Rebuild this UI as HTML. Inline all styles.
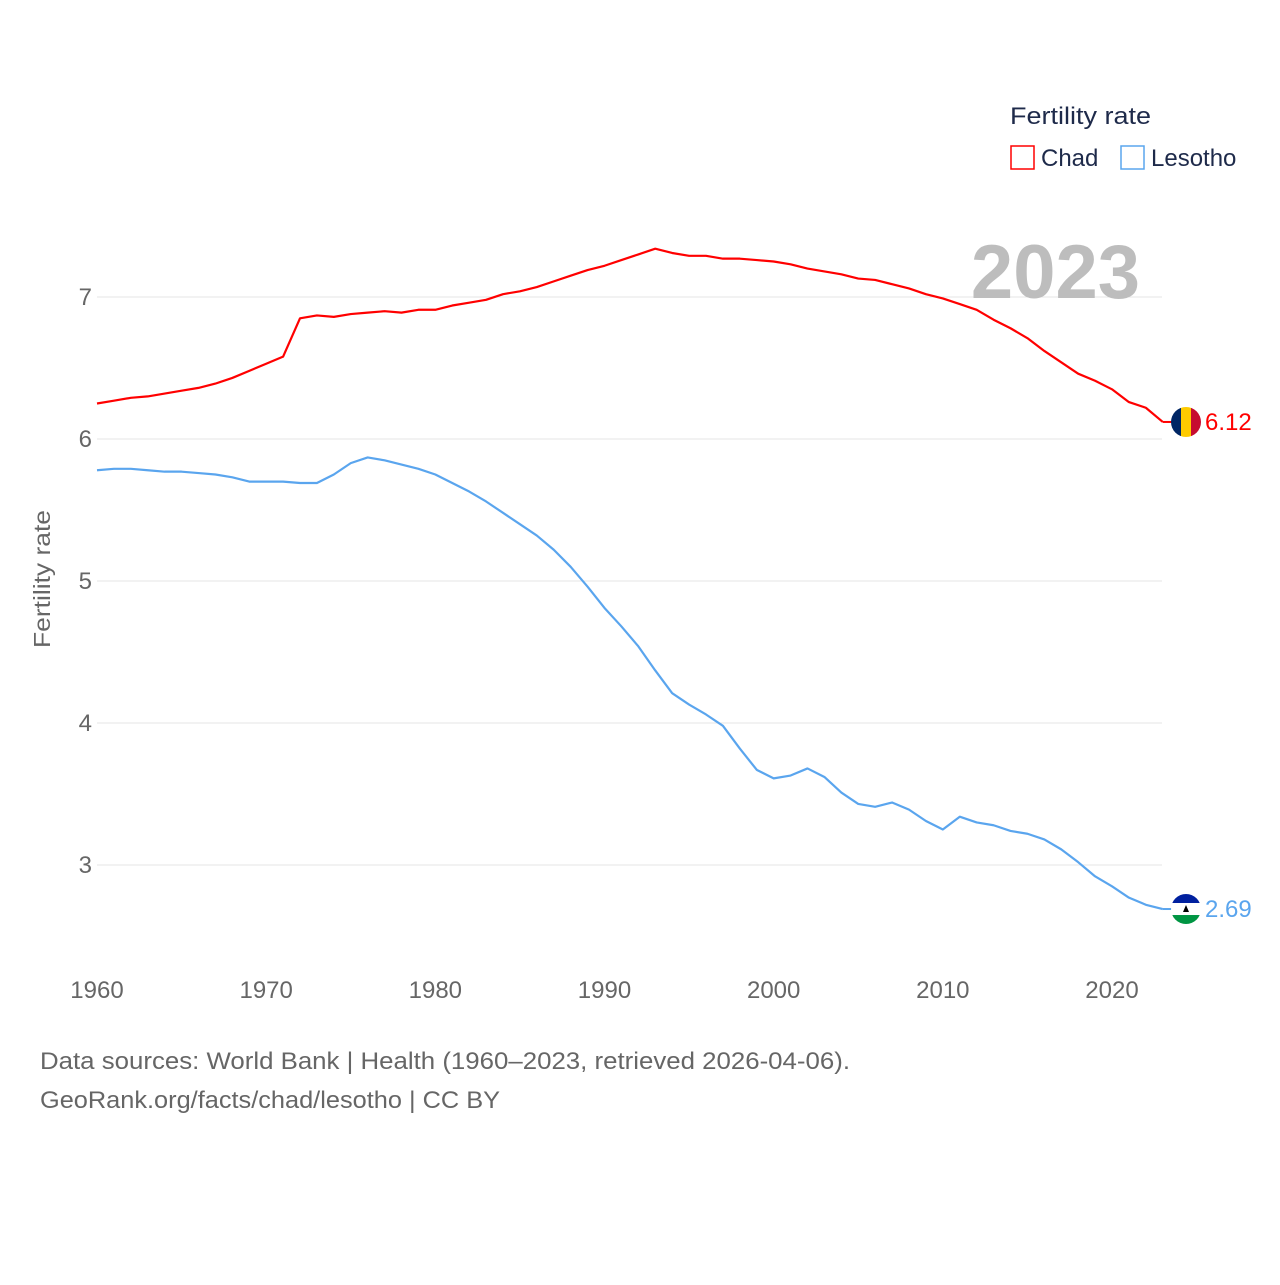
<!DOCTYPE html>
<html><head><meta charset="utf-8"><style>
body{margin:0;background:#fff;font-family:"Liberation Sans",sans-serif}
svg text{font-family:"Liberation Sans",sans-serif}
</style></head><body>
<svg id="chart" width="1280" height="1280" xmlns="http://www.w3.org/2000/svg">
<g id="grid"></g>
<g id="xticks"></g>
<g id="yticks"></g>
<text x="1140" y="298" text-anchor="end" font-size="76" font-weight="bold" fill="#bdbdbd">2023</text>
<text transform="translate(50,579) rotate(-90)" text-anchor="middle" font-size="23" fill="#666" textLength="138" lengthAdjust="spacingAndGlyphs">Fertility rate</text>
<g id="series"></g>
<g>
<text x="1010" y="124" font-size="24" fill="#1e2a4a" textLength="141" lengthAdjust="spacingAndGlyphs">Fertility rate</text>
<g><rect x="1011" y="146" width="23" height="23" fill="none" stroke="#f00" stroke-width="1.5"/><text x="1041" y="166" font-size="24" fill="#1e2a4a">Chad</text></g>
<g><rect x="1121" y="146" width="23" height="23" fill="none" stroke="#5aa5ee" stroke-width="1.5"/><text x="1151" y="166" font-size="24" fill="#1e2a4a">Lesotho</text></g>
</g>
<text x="40" y="1069" font-size="24" fill="#666" textLength="810" lengthAdjust="spacingAndGlyphs">Data sources: World Bank | Health (1960–2023, retrieved 2026-04-06).</text>
<text x="40" y="1108" font-size="24" fill="#666" textLength="460" lengthAdjust="spacingAndGlyphs">GeoRank.org/facts/chad/lesotho | CC BY</text>
</svg>
<script>
const years=[];for(let y=1960;y<=2023;y++)years.push(y);
const chad=[6.25,6.27,6.29,6.30,6.32,6.34,6.36,6.39,6.43,6.48,6.53,6.58,6.85,6.87,6.86,6.88,6.89,6.90,6.89,6.91,6.91,6.94,6.96,6.98,7.02,7.04,7.07,7.11,7.15,7.19,7.22,7.26,7.30,7.34,7.31,7.29,7.29,7.27,7.27,7.26,7.25,7.23,7.20,7.18,7.16,7.13,7.12,7.09,7.06,7.02,6.99,6.95,6.91,6.84,6.78,6.71,6.62,6.54,6.46,6.41,6.35,6.26,6.22,6.12];
const lesotho=[5.78,5.79,5.79,5.78,5.77,5.77,5.76,5.75,5.73,5.70,5.70,5.70,5.69,5.69,5.75,5.83,5.87,5.85,5.82,5.79,5.75,5.69,5.63,5.56,5.48,5.40,5.32,5.22,5.10,4.96,4.81,4.68,4.54,4.37,4.21,4.13,4.06,3.98,3.82,3.67,3.61,3.63,3.68,3.62,3.51,3.43,3.41,3.44,3.39,3.31,3.25,3.34,3.30,3.28,3.24,3.22,3.18,3.11,3.02,2.92,2.85,2.77,2.72,2.69];
const yTicks=[3,4,5,6,7];
const xTicks=[1960,1970,1980,1990,2000,2010,2020];
const X=y=>97+(y-1960)*(1015/60);
const Y=v=>439-(v-6)*142;
const NS="http://www.w3.org/2000/svg";
function mk(tag,attrs,parent){const e=document.createElementNS(NS,tag);for(const k in attrs)e.setAttribute(k,attrs[k]);parent.appendChild(e);return e;}
const grid=document.getElementById('grid'),yt=document.getElementById('yticks'),xt=document.getElementById('xticks'),ser=document.getElementById('series');
yTicks.forEach(v=>{
 const l=mk('line',{x1:97,x2:1162,y1:Y(v),y2:Y(v),stroke:'#e6e6e6','stroke-width':1},grid);
 
 
 const t=mk('text',{x:92,y:Y(v)+8,'text-anchor':'end','font-size':24,fill:'#666'},yt);t.textContent=v;
 
 
});
xTicks.forEach(v=>{
 const t=mk('text',{x:X(v),y:998,'text-anchor':'middle','font-size':24,fill:'#666'},xt);t.textContent=v;
 
 
});
function line(vals,color,name){
 const p=mk('polyline',{points:vals.map((v,i)=>X(years[i])+','+Y(v)).join(' '),fill:'none',stroke:color,'stroke-width':2.2,'stroke-linejoin':'round'},ser);
 
 
 const last=vals[vals.length-1],ly=Y(last);
 const g=mk('g',{},ser);
 
 
 mk('line',{x1:X(2023),x2:1172,y1:ly,y2:ly,stroke:color,'stroke-width':2},g);
 const cx=1186;
 const cp=mk('clipPath',{id:'c'+name},g);
 mk('circle',{cx:cx,cy:ly,r:15},cp);
 const f=mk('g',{'clip-path':'url(#c'+name+')'},g);
 if(name==='chad'){
  mk('rect',{x:cx-15,y:ly-15,width:10,height:30,fill:'#002664'},f);
  mk('rect',{x:cx-5,y:ly-15,width:10,height:30,fill:'#fecb00'},f);
  mk('rect',{x:cx+5,y:ly-15,width:10,height:30,fill:'#c60c30'},f);
 }else{
  mk('rect',{x:cx-15,y:ly-15,width:30,height:9,fill:'#00209f'},f);
  mk('rect',{x:cx-15,y:ly-6,width:30,height:12,fill:'#fff'},f);
  mk('rect',{x:cx-15,y:ly+6,width:30,height:9,fill:'#009543'},f);
  mk('path',{d:`M${cx-3} ${ly+3} L${cx} ${ly-4} L${cx+3} ${ly+3} Z`,fill:'#000'},f);
 }
 const t=mk('text',{x:1205,y:ly+8,'font-size':24,fill:color},g);t.textContent=last.toFixed(2);
}
line(chad,'#ff0000','chad');
line(lesotho,'#5aa5ee','lesotho');
</script>
</body></html>
